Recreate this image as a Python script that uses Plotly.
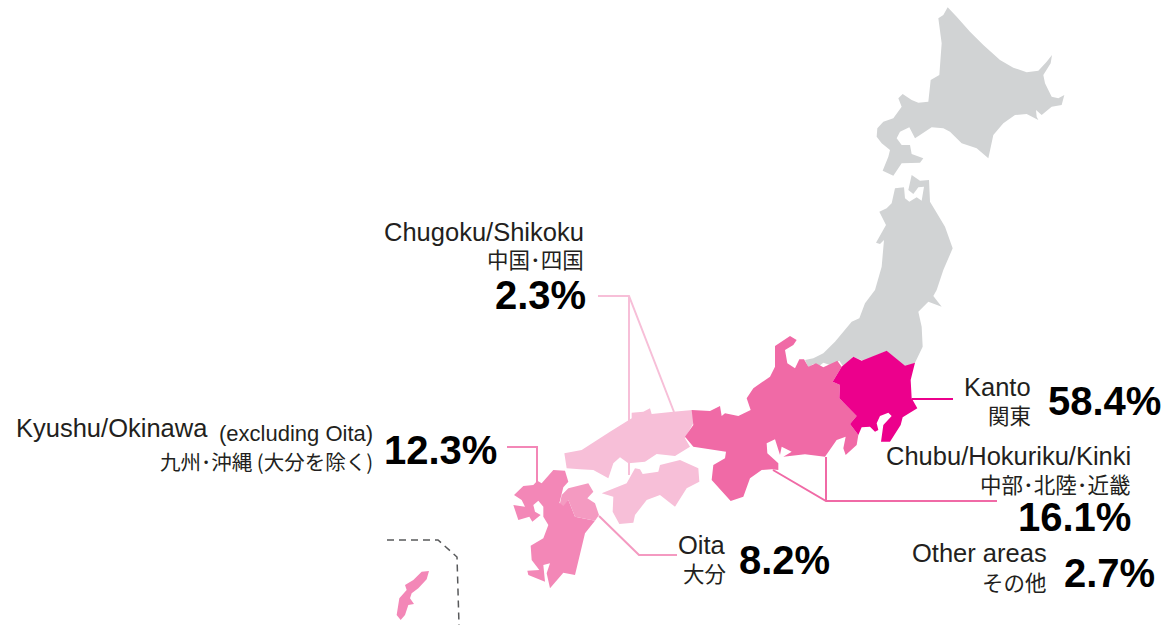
import plotly.graph_objects as go

W, H = 1167, 625

# Outlines: flat x,y lists in crop units (crop origin, 1/3 px scale)
hokkaido = [503,22,530,50,570,95,610,135,660,180,700,203,740,217,775,212,800,185,816,165,812,190,790,225,795,250,815,290,835,295,853,285,845,315,815,320,785,345,768,330,770,350,775,360,740,342,705,345,670,370,640,405,625,475,590,445,545,430,510,395,490,385,455,382,420,405,405,415,388,382,360,395,350,415,365,435,390,435,395,462,430,475,420,488,365,490,340,527,308,512,325,470,330,450,305,430,290,410,292,385,310,365,340,355,365,320,355,295,368,282,395,300,415,308,445,305,452,240,478,225,485,130,475,55,490,45]
tohoku = [345,55,372,52,375,85,388,95,410,82,425,92,432,50,415,52,400,72,385,60,395,15,420,32,447,30,450,95,465,120,495,170,518,235,490,300,470,360,460,378,485,410,445,395,415,425,425,470,428,530,405,578,375,590,320,543,250,572,218,560,190,590,178,572,150,585,130,578,115,590,100,582,85,592,75,570,100,565,130,550,165,515,215,455,238,445,255,400,285,360,305,290,312,210,300,222,288,218,318,165,298,125,320,115,335,100]
kanto = [520,80,545,92,620,62,675,107,705,98,692,150,695,205,712,235,668,262,662,285,630,335,603,335,610,285,635,258,625,248,600,258,590,280,595,300,585,305,570,290,545,292,535,315,510,282,530,258,478,205,480,165,458,155,485,110]
chubu = [285,48,330,18,350,30,340,45,315,60,322,100,345,115,358,88,372,88,385,110,408,100,430,112,472,92,485,110,458,155,480,165,478,205,530,258,510,282,535,315,530,345,497,375,490,355,497,320,470,330,435,380,375,373,310,380,335,365,305,350,300,375,285,328,260,340,262,370,295,400,295,420,275,418,245,420,210,445,190,500,152,513,95,450,100,405,135,385,138,365,105,360,40,350,15,320,40,285,35,240,90,243,120,228,125,258,135,250,175,258,212,240,200,205,220,175,270,140,285,110]
chugoku = [578,30,580,70,555,115,570,140,525,168,470,162,435,185,385,190,360,172,340,190,325,235,280,210,240,208,200,205,193,160,245,150,330,95,395,55,395,38,430,35,450,25,455,42,520,35]
shikoku = [305,280,380,250,405,205,420,208,428,222,475,215,480,195,540,180,595,205,598,245,560,265,525,320,480,285,440,300,405,345,400,368,358,372,338,335,340,290]
kyushu = [160,210,195,212,205,245,190,262,178,310,205,300,225,350,285,362,255,400,225,525,190,518,150,565,140,520,150,490,130,495,135,545,85,525,82,512,118,510,95,480,92,437,130,415,145,375,130,350,130,320,115,302,100,315,105,335,122,345,97,365,88,350,55,360,40,315,75,320,65,300,42,285,70,258,100,255,112,242,125,250]
oita = [180,310,185,285,205,265,235,258,265,250,280,275,262,295,285,310,297,345,285,362,225,350,205,300,190,318]
okinawa = [155,125,177,123,170,148,145,175,125,190,120,205,132,222,115,225,105,255,92,270,80,255,88,205,110,180,105,165,130,150]

# Region labels and shares
regions_en = ["Chugoku/Shikoku", "Kyushu/Okinawa", "Kanto", "Chubu/Hokuriku/Kinki", "Oita", "Other areas"]
regions_ja = ["中国･四国", "九州･沖縄 (大分を除く)", "関東", "中部･北陸･近畿", "大分", "その他"]
shares = [2.3, 12.3, 58.4, 16.1, 8.2, 2.7]

# Leader lines, page pixels
line_chugoku = [[(598,296),(629,296),(674,412)], [(629,296),(629,475)]]
line_kyushu = [[(507,447),(537,447),(537,482)]]
line_kanto = [[(912,399),(953,399)]]
line_chubu = [[(826,457),(826,501)], [(773,470),(826,501),(997,501)]]
line_oita = [[(599,516),(639,555),(677,555)]]
inset_frame = [(387,540),(438,540),(457,557),(459,625)]

GRAY, KANTO, CHUBU, KYUSHU, OITA, CHUGOKU = "#D1D3D4", "#EC008C", "#F06AA6", "#F387B7", "#F49AC1", "#F7BFD8"

fig = go.Figure()


def poly(flat, ox, oy, color):
    xs = [ox + v / 3 for v in flat[0::2]]
    ys = [oy + v / 3 for v in flat[1::2]]
    fig.add_trace(go.Scatter(x=xs + xs[:1], y=ys + ys[:1], mode="lines", fill="toself", fillcolor=color,
                             line=dict(width=0, color=color), hoverinfo="skip", showlegend=False))


def lines(paths, color, width=2, dash=None):
    for p in paths:
        fig.add_trace(go.Scatter(x=[a for a, _ in p], y=[b for _, b in p], mode="lines",
                                 line=dict(color=color, width=width, dash=dash), hoverinfo="skip", showlegend=False))


poly(hokkaido, 780, 0, GRAY)
poly(tohoku, 780, 170, GRAY)
poly(chugoku, 500, 400, CHUGOKU)
poly(shikoku, 500, 400, CHUGOKU)
lines(line_chugoku, CHUGOKU)
poly(chubu, 680, 330, CHUBU)
poly(kanto, 680, 330, KANTO)
poly(kyushu, 500, 400, KYUSHU)
poly(oita, 500, 400, OITA)
poly(okinawa, 370, 530, KYUSHU)
lines(line_kyushu, KYUSHU)
lines(line_kanto, KANTO)
lines(line_chubu, CHUBU)
lines(line_oita, OITA)
lines([inset_frame], "#58595B", 1.5, "7px,5px")

LAT = "Liberation Sans, Arial, sans-serif"
CJK = "Noto Sans CJK JP, sans-serif"
INK = "#231F20"
EN, JA, PCT = 25.5, 21.5, 40


def label(text, x, y, size, family=LAT, bold=False, anchor="right", color=INK):
    fig.add_annotation(x=x, y=y, xref="x", yref="y", text=f"<b>{text}</b>" if bold else text, showarrow=False,
                       xanchor=anchor, yanchor="middle", borderpad=0, borderwidth=0,
                       font=dict(family=family, size=size, color=color))


pct = [f"{v}%" for v in shares]
label(regions_en[0], 584, 232, EN)
label(regions_ja[0], 584, 258, JA, CJK)
label(pct[0], 586, 295, PCT, bold=True, color="#000")

label(regions_en[1], 16, 428, EN, anchor="left")
label("(excluding Oita)", 373, 433, 22)
label(regions_ja[1], 373, 461, 20.5, CJK)
label(pct[1], 497, 450, PCT, bold=True, color="#000")

label(regions_en[2], 1031, 387, EN)
label(regions_ja[2], 1031, 414, JA, CJK)
label(pct[2], 1161, 401, PCT, bold=True, color="#000")

label(regions_en[3], 1131, 456, EN)
label(regions_ja[3], 1131, 483, JA, CJK)
label(pct[3], 1131, 517, PCT, bold=True, color="#000")

label(regions_en[4], 726, 545, EN)
label(regions_ja[4], 726, 572, JA, CJK)
label(pct[4], 830, 560, PCT, bold=True, color="#000")

label(regions_en[5], 1047, 553, EN)
label(regions_ja[5], 1047, 581, JA, CJK)
label(pct[5], 1155, 573, PCT, bold=True, color="#000")

fig.update_xaxes(range=[0, W], visible=False, fixedrange=True)
fig.update_yaxes(range=[H, 0], visible=False, fixedrange=True)
fig.update_layout(width=W, height=H, margin=dict(l=0, r=0, t=0, b=0), paper_bgcolor="white", plot_bgcolor="white",
                  showlegend=False)
fig.write_html("out.html", config={"displayModeBar": False},
               post_script="document.body.style.margin='0';document.body.style.overflow='hidden';")
